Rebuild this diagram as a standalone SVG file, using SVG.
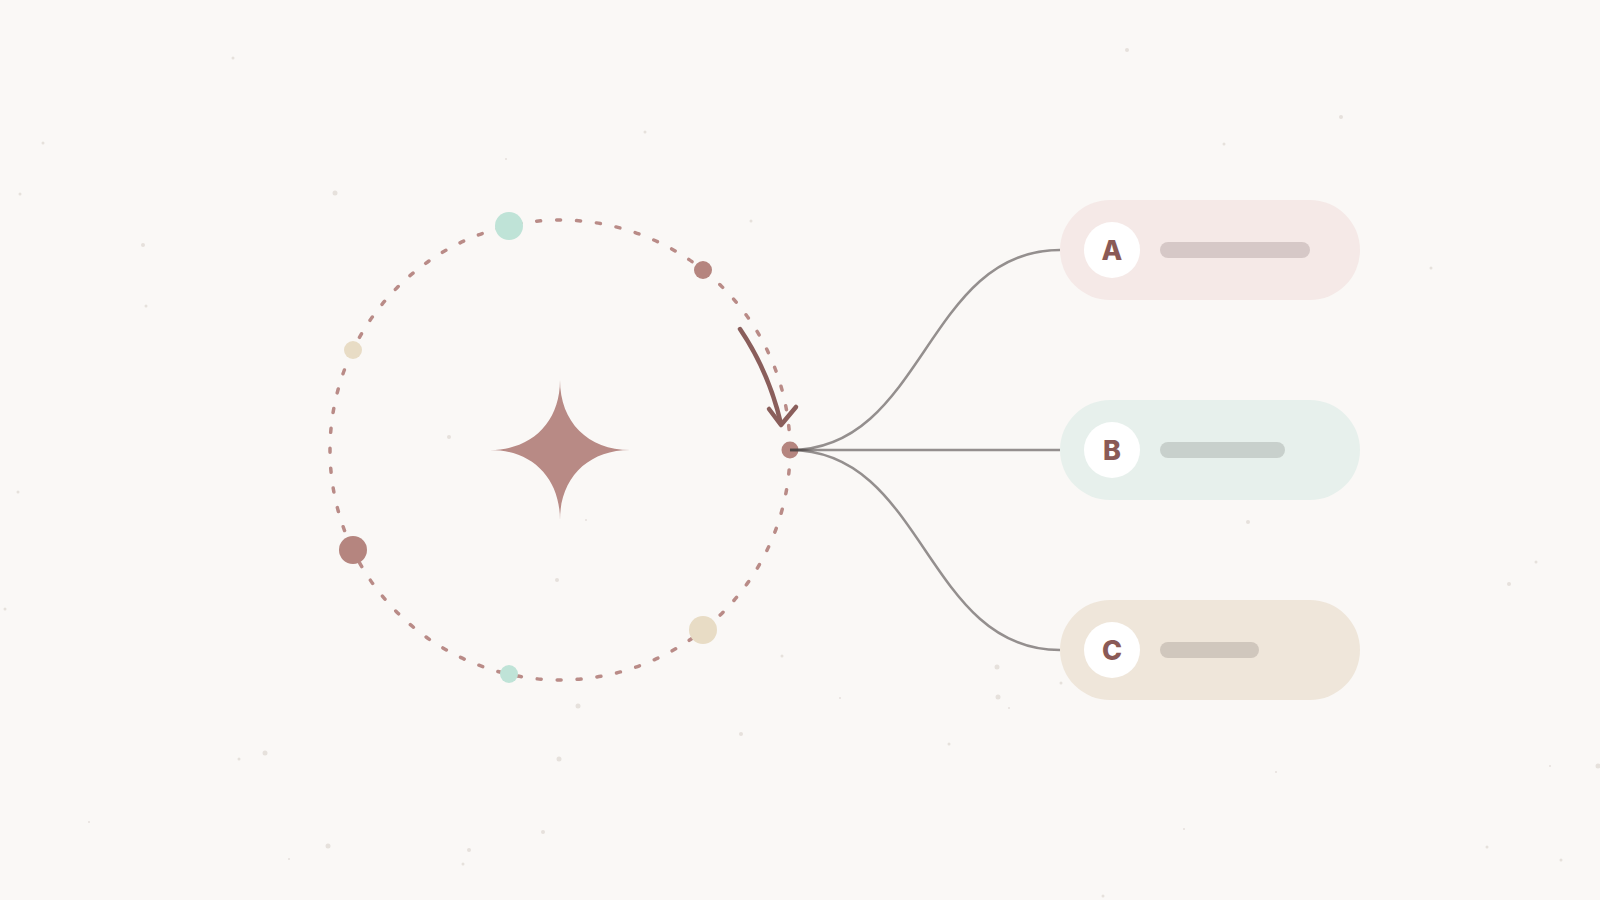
<svg xmlns="http://www.w3.org/2000/svg" width="1600" height="900" viewBox="0 0 1600 900">
<defs>
<style>
.orbit{fill:none;stroke:#b98b87;stroke-width:3.5;stroke-dasharray:4 16;stroke-linecap:round}
.mauve{fill:#b5857f}
.teal{fill:#bfe3d7}
.beige{fill:#e8dcc5}
.conn{fill:none;stroke:#4a4444;stroke-opacity:0.58;stroke-width:2.5}
.badge{fill:#ffffff}
.letter{font-family:Inter,"Liberation Sans",sans-serif;font-weight:800;font-size:27px;fill:#8a5a56;text-anchor:middle}
.speck{fill:#e6e1dc}
.arrow{fill:none;stroke:#8a5e5b;stroke-width:4.5;stroke-linecap:round;stroke-linejoin:round}
</style>
</defs>
<rect width="1600" height="900" fill="#faf8f6"/>
<g id="speckles">
<circle class="speck" cx="233" cy="58" r="1.5"/>
<circle class="speck" cx="43" cy="143" r="1.5"/>
<circle class="speck" cx="20" cy="194" r="1.5"/>
<circle class="speck" cx="335" cy="193" r="2.5"/>
<circle class="speck" cx="143" cy="245" r="2"/>
<circle class="speck" cx="146" cy="306" r="1.5"/>
<circle class="speck" cx="645" cy="132" r="1.5"/>
<circle class="speck" cx="506" cy="159" r="1"/>
<circle class="speck" cx="751" cy="221" r="1.5"/>
<circle class="speck" cx="1127" cy="50" r="2"/>
<circle class="speck" cx="1341" cy="117" r="2"/>
<circle class="speck" cx="1224" cy="144" r="1.5"/>
<circle class="speck" cx="1431" cy="268" r="1.5"/>
<circle class="speck" cx="18" cy="492" r="1.5"/>
<circle class="speck" cx="449" cy="437" r="2"/>
<circle class="speck" cx="557" cy="580" r="2"/>
<circle class="speck" cx="586" cy="520" r="1"/>
<circle class="speck" cx="5" cy="609" r="1.5"/>
<circle class="speck" cx="1248" cy="522" r="2"/>
<circle class="speck" cx="1536" cy="562" r="1.5"/>
<circle class="speck" cx="1509" cy="584" r="2"/>
<circle class="speck" cx="997" cy="667" r="2.5"/>
<circle class="speck" cx="998" cy="697" r="2.5"/>
<circle class="speck" cx="1009" cy="708" r="1"/>
<circle class="speck" cx="782" cy="656" r="1.5"/>
<circle class="speck" cx="578" cy="706" r="2.5"/>
<circle class="speck" cx="741" cy="734" r="2"/>
<circle class="speck" cx="265" cy="753" r="2.5"/>
<circle class="speck" cx="239" cy="759" r="1.5"/>
<circle class="speck" cx="559" cy="759" r="2.5"/>
<circle class="speck" cx="840" cy="698" r="1"/>
<circle class="speck" cx="949" cy="744" r="1.5"/>
<circle class="speck" cx="1061" cy="683" r="1.5"/>
<circle class="speck" cx="1276" cy="772" r="1"/>
<circle class="speck" cx="1598" cy="766" r="2.5"/>
<circle class="speck" cx="1550" cy="766" r="1"/>
<circle class="speck" cx="328" cy="846" r="2.5"/>
<circle class="speck" cx="469" cy="850" r="2"/>
<circle class="speck" cx="543" cy="832" r="2"/>
<circle class="speck" cx="463" cy="864" r="1.5"/>
<circle class="speck" cx="289" cy="859" r="1"/>
<circle class="speck" cx="89" cy="822" r="1"/>
<circle class="speck" cx="1184" cy="829" r="1"/>
<circle class="speck" cx="1487" cy="847" r="1.5"/>
<circle class="speck" cx="1561" cy="860" r="1.5"/>
<circle class="speck" cx="1103" cy="896" r="1.5"/>
</g>
<g id="hub">
<circle class="orbit" cx="560" cy="450" r="230"/>
<path d="M560,380 C560,422 588,450 630,450 C588,450 560,478 560,520 C560,478 532,450 490,450 C532,450 560,422 560,380 Z" fill="#b88a85"/>
<circle class="teal" cx="509" cy="226" r="14"/>
<circle class="mauve" cx="703" cy="270" r="9"/>
<circle class="beige" cx="353" cy="350" r="9"/>
<circle class="mauve" cx="353" cy="550" r="14"/>
<circle class="beige" cx="703" cy="630" r="14"/>
<circle class="teal" cx="509" cy="674" r="9"/>
<circle class="mauve" cx="790" cy="450" r="8.5"/>
<path class="arrow" d="M740,329 Q769,372 781,424"/>
<path class="arrow" d="M769,409 L781,425 L796,407"/>
</g>
<g id="connectors">
<path class="conn" d="M790,450 C925,450 925,250 1060,250"/>
<path class="conn" d="M790,450 L1060,450"/>
<path class="conn" d="M790,450 C925,450 925,650 1060,650"/>
</g>
<g id="node-a">
<rect x="1060" y="200" width="300" height="100" rx="50" fill="#f5e9e7"/>
<circle class="badge" cx="1112" cy="250" r="28"/>
<text class="letter" x="1112" y="260">A</text>
<rect x="1160" y="242" width="150" height="16" rx="8" fill="#d6c8c7"/>
</g>
<g id="node-b">
<rect x="1060" y="400" width="300" height="100" rx="50" fill="#e7f0ec"/>
<circle class="badge" cx="1112" cy="450" r="28"/>
<text class="letter" x="1112" y="460">B</text>
<rect x="1160" y="442" width="125" height="16" rx="8" fill="#c8d0cc"/>
</g>
<g id="node-c">
<rect x="1060" y="600" width="300" height="100" rx="50" fill="#efe6da"/>
<circle class="badge" cx="1112" cy="650" r="28"/>
<text class="letter" x="1112" y="660">C</text>
<rect x="1160" y="642" width="99" height="16" rx="8" fill="#d0c7bd"/>
</g>
</svg>
